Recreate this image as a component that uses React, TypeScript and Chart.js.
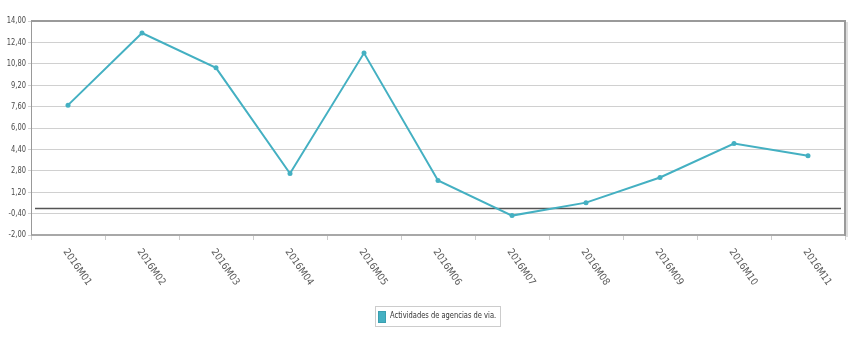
import React, { useEffect, useRef } from 'react';
import { Chart, registerables } from 'chart.js';

Chart.register(...registerables);

const categories = ['2016M01', '2016M02', '2016M03', '2016M04', '2016M05', '2016M06', '2016M07', '2016M08', '2016M09', '2016M10', '2016M11'];
const values = [7.71, 13.1, 10.5, 2.6, 11.6, 2.08, -0.55, 0.42, 2.3, 4.84, 3.92];
const seriesLabel = 'Actividades de agencias de via.';
const yMin = -2;
const yMax = 14;
const yStep = 1.6;

const FONT = "'DejaVu Sans Condensed', 'DejaVu Sans', sans-serif";
const LINE_COLOR = '#44b0c2';
const NARROW = 0.83;

const fmt = (v: number) => Number(v).toFixed(2).replace('.', ',');

export default function App() {
  const ref = useRef<HTMLCanvasElement>(null);

  useEffect(() => {
    if (!ref.current) return;

    const framePlugin = {
      id: 'framePlugin',
      beforeDatasetsDraw(chart: any) {
        const { ctx, chartArea } = chart;
        const ys = chart.scales.y;
        const y0 = Math.round(ys.getPixelForValue(0)) + 0.5;
        ctx.save();
        ctx.strokeStyle = '#555555';
        ctx.lineWidth = 1.5;
        ctx.beginPath();
        ctx.moveTo(chartArea.left + 4, y0);
        ctx.lineTo(chartArea.right - 4, y0);
        ctx.stroke();
        ctx.restore();
      },
      afterDraw(chart: any) {
        const { ctx, chartArea } = chart;
        const { left, right, top, bottom } = chartArea;
        ctx.save();
        // frame
        ctx.strokeStyle = '#9a9a9a';
        ctx.lineWidth = 2;
        ctx.beginPath();
        ctx.moveTo(left, top);
        ctx.lineTo(right, top);
        ctx.stroke();
        ctx.strokeStyle = '#a8a8a8';
        ctx.beginPath();
        ctx.moveTo(left, bottom);
        ctx.lineTo(right + 1, bottom);
        ctx.stroke();
        ctx.strokeStyle = '#9a9a9a';
        ctx.beginPath();
        ctx.moveTo(right, top - 1);
        ctx.lineTo(right, bottom + 1);
        ctx.stroke();
        ctx.strokeStyle = '#dddddd';
        ctx.beginPath();
        ctx.moveTo(right + 2, top + 1);
        ctx.lineTo(right + 2, bottom + 2);
        ctx.stroke();
        ctx.strokeStyle = '#999999';
        ctx.lineWidth = 1;
        ctx.beginPath();
        ctx.moveTo(left + 0.5, top);
        ctx.lineTo(left + 0.5, bottom);
        ctx.stroke();

        // y labels (narrow)
        const ys = chart.scales.y;
        ctx.font = `9px ${FONT}`;
        ctx.fillStyle = '#4a4a4a';
        ctx.textAlign = 'right';
        ctx.textBaseline = 'middle';
        ys.ticks.forEach((t: any) => {
          const py = ys.getPixelForValue(t.value);
          ctx.save();
          ctx.translate(left - 5, py);
          ctx.scale(NARROW, 1);
          ctx.fillText(fmt(t.value), 0, 0);
          ctx.restore();
        });

        // rotated x labels
        const xs = chart.scales.x;
        ctx.font = `10px ${FONT}`;
        ctx.fillStyle = '#5a5a5a';
        ctx.textAlign = 'left';
        ctx.textBaseline = 'middle';
        categories.forEach((c, i) => {
          const px = xs.getPixelForValue(i);
          ctx.save();
          ctx.translate(px - 3, xs.top + 15);
          ctx.rotate((55 * Math.PI) / 180);
          ctx.fillText(c, 0, 0);
          ctx.restore();
        });

        // legend
        ctx.font = `9px ${FONT}`;
        const textW = ctx.measureText(seriesLabel).width * NARROW;
        const swatchW = 8;
        const gap = 4;
        const padX = 3;
        const boxW = Math.round(padX + swatchW + gap + textW + padX + 1);
        const boxH = 20;
        const cx = chart.width / 2 + 11;
        const bx = Math.round(cx - boxW / 2) + 0.5;
        const by = 306.5;
        ctx.strokeStyle = '#cccccc';
        ctx.lineWidth = 1;
        ctx.strokeRect(bx, by, boxW, boxH);
        const sx = bx + padX - 0.5;
        ctx.fillStyle = LINE_COLOR;
        ctx.fillRect(sx, by + 4.5, swatchW, 12);
        ctx.strokeStyle = '#3a9fb0';
        ctx.strokeRect(sx + 0.5, by + 5, swatchW - 1, 11);
        ctx.fillStyle = '#333333';
        ctx.textAlign = 'left';
        ctx.textBaseline = 'middle';
        ctx.save();
        ctx.translate(sx + swatchW + gap, by + 9.5);
        ctx.scale(NARROW, 1);
        ctx.fillText(seriesLabel, 0, 0);
        ctx.restore();

        ctx.restore();
      },
    };

    const chart = new Chart(ref.current, {
      type: 'line',
      data: {
        labels: categories,
        datasets: [
          {
            label: seriesLabel,
            data: values,
            borderColor: LINE_COLOR,
            backgroundColor: LINE_COLOR,
            borderWidth: 2,
            pointRadius: 2.5,
            pointBackgroundColor: LINE_COLOR,
            pointBorderWidth: 0,
            tension: 0,
            fill: false,
          },
        ],
      },
      options: {
        animation: false,
        responsive: true,
        maintainAspectRatio: false,
        layout: { padding: { top: 21, right: 8, bottom: 0, left: 0 } },
        plugins: {
          tooltip: { enabled: false },
          legend: { display: false },
        },
        scales: {
          x: {
            type: 'category',
            offset: true,
            grid: {
              offset: true,
              drawOnChartArea: false,
              drawTicks: true,
              tickLength: 5,
              color: '#cccccc',
            },
            border: { display: false },
            ticks: { display: false },
            afterFit: (scale: any) => {
              scale.height = 117;
            },
          },
          y: {
            min: yMin,
            max: yMax,
            grid: {
              color: '#d0d0d0',
              drawTicks: true,
              tickLength: 3,
            },
            border: { display: false },
            ticks: {
              stepSize: yStep,
              display: false,
            },
            afterFit: (scale: any) => {
              scale.width = 31;
            },
          },
        },
      },
      plugins: [framePlugin],
    });

    return () => chart.destroy();
  }, []);

  return (
    <div style={{ position: 'fixed', left: 0, top: 0, width: 853, height: 352 }}>
      <canvas ref={ref} />
    </div>
  );
}
